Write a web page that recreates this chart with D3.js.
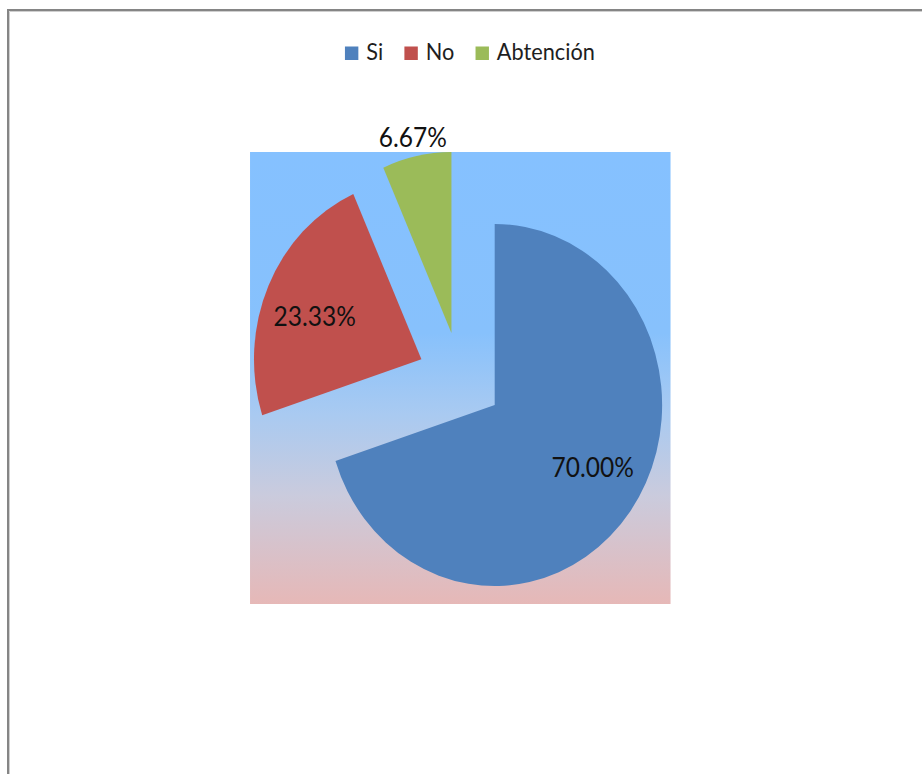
<!DOCTYPE html>
<html>
<head>
<meta charset="utf-8">
<script src="https://cdn.jsdelivr.net/npm/d3@7"></script>
<style>
  html, body { margin: 0; padding: 0; background: #fff; }
  svg { display: block; }
  text { font-family: Lato, "Open Sans", sans-serif; }
</style>
</head>
<body>
<div id="chart"></div>
<script>
// Survey answers
const categories = ["Si", "No", "Abtención"];
const values = [70.00, 23.33, 6.67];
const colors = ["#4f81bd", "#c0504d", "#9bbb59"];

const W = 922, H = 774;
const squeeze = 0.925;              // horizontal compression of the whole chart
const plot = { x: 270.3, y: 152, w: 454.6, h: 452 };
const radius = 181;
const explode = 46;
const labelFont = 26.5;
const legendFont = 23.5;

const svg = d3.select("#chart").append("svg")
  .attr("width", W).attr("height", H);

// Outer frame (left and top edges visible)
svg.append("path")
  .attr("d", `M8,${H} L8,10 L${W},10`)
  .attr("fill", "none").attr("stroke", "#858585").attr("stroke-width", 2);
svg.append("path")
  .attr("d", `M9.5,${H} L9.5,11.5 L${W},11.5`)
  .attr("fill", "none").attr("stroke", "#cfcfcf").attr("stroke-width", 1);

const defs = svg.append("defs");
const grad = defs.append("linearGradient")
  .attr("id", "plotFill").attr("x1", 0).attr("y1", 0).attr("x2", 0).attr("y2", 1);
[[0, "#85c1ff"], [0.40, "#87c1fc"], [0.58, "#a9caf1"], [0.76, "#cacbdd"], [1, "#e6b8b7"]]
  .forEach(([o, c]) => grad.append("stop").attr("offset", o).attr("stop-color", c));

const g = svg.append("g").attr("transform", `scale(${squeeze},1)`);

// Plot area background
g.append("rect")
  .attr("x", plot.x).attr("y", plot.y)
  .attr("width", plot.w).attr("height", plot.h)
  .attr("fill", "url(#plotFill)");

const cx = plot.x + plot.w / 2, cy = plot.y + plot.h / 2;

const pie = d3.pie().sort(null).value(d => d)(values);
const arc = d3.arc().innerRadius(0).outerRadius(radius);

const offset = d => {
  const a = (d.startAngle + d.endAngle) / 2;
  return [Math.sin(a) * explode, -Math.cos(a) * explode];
};

const slices = g.append("g").attr("transform", `translate(${cx},${cy})`);
slices.selectAll("path").data(pie).join("path")
  .attr("transform", d => `translate(${offset(d)})`)
  .attr("d", arc)
  .attr("fill", (d, i) => colors[i]);

// Data labels: inside for large slices (pulled slightly toward the horizontal),
// outside along the bisector for small ones
const labels = g.append("g").attr("transform", `translate(${cx},${cy})`);
labels.selectAll("text").data(pie).join("text")
  .attr("transform", d => {
    let a = (d.startAngle + d.endAngle) / 2;
    const [ox, oy] = offset(d);
    const outside = (d.data / 100) < 0.1;
    let r = radius * 1.107;
    if (!outside) {
      const h = a < Math.PI ? Math.PI / 2 : Math.PI * 1.5;
      a = h + (a - h) * 0.85;
      r = radius * 0.68;
    }
    return `translate(${ox + Math.sin(a) * r},${oy - Math.cos(a) * r})`;
  })
  .attr("text-anchor", "middle")
  .attr("dy", "0.36em")
  .attr("font-size", labelFont)
  .attr("fill", "#111")
  .text(d => d.data.toFixed(2) + "%");

// Legend
const legend = g.append("g");
const items = legend.selectAll("g").data(categories).join("g");
items.append("rect")
  .attr("width", 14.5).attr("height", 13.5).attr("y", -13.5)
  .attr("fill", (d, i) => colors[i]);
items.append("text")
  .attr("x", 23).attr("font-size", legendFont).attr("fill", "#1e1e1e")
  .text(d => d);
let xpos = 0;
items.each(function () {
  const w = d3.select(this).select("text").node().getComputedTextLength();
  d3.select(this).attr("transform", `translate(${xpos},0)`);
  xpos += 23 + w + 23;
});
const legendWidth = xpos - 23;
legend.attr("transform", `translate(${508 - legendWidth / 2},60)`);
</script>
</body>
</html>
